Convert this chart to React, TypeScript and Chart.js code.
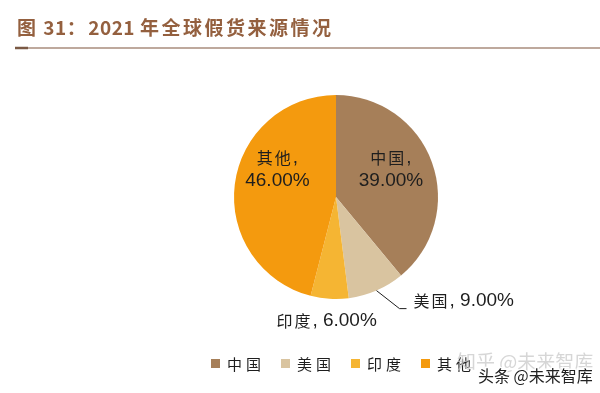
import React, { useEffect, useRef } from "react";
import { Chart, registerables } from "chart.js";

Chart.register(...registerables);

const titleText = "图 31：2021 年全球假货来源情况";
const categories = ["中国", "美国", "印度", "其他"];
const shares = [39, 9, 6, 46];
const sliceColors = ["#A67F59", "#D9C4A0", "#F5B533", "#F49A0E"];
const watermarkTexts = ["知乎 @未来智库", "头条 @未来智库"];

const CJK_FONT = '"Noto Sans CJK SC", sans-serif';
const NUM_FONT = '"Liberation Sans", Arial, sans-serif';

type Run = { text: string; cjk: boolean };
function splitRuns(s: string): Run[] {
  const runs: Run[] = [];
  for (const ch of s) {
    const cjk = /[\u3000-\u9fff\uff00-\uffef]/.test(ch);
    const last = runs[runs.length - 1];
    if (last && last.cjk === cjk) last.text += ch;
    else runs.push({ text: ch, cjk });
  }
  return runs;
}

function setRunFont(ctx: CanvasRenderingContext2D, cjk: boolean, cjkSize: number, numSize: number, cjkSpacing: number) {
  if (cjk) {
    ctx.font = `${cjkSize}px ${CJK_FONT}`;
    (ctx as any).letterSpacing = `${cjkSpacing}px`;
  } else {
    ctx.font = `${numSize}px ${NUM_FONT}`;
    (ctx as any).letterSpacing = "0px";
  }
}

function measureMixed(ctx: CanvasRenderingContext2D, s: string, cjkSize: number, numSize: number, sp: number) {
  let w = 0;
  for (const r of splitRuns(s)) {
    setRunFont(ctx, r.cjk, cjkSize, numSize, sp);
    w += ctx.measureText(r.text).width;
  }
  return w;
}

function drawMixed(ctx: CanvasRenderingContext2D, s: string, x: number, y: number, align: "left" | "center", cjkSize: number, numSize: number, sp: number) {
  const total = measureMixed(ctx, s, cjkSize, numSize, sp);
  let cx = align === "center" ? x - total / 2 : x;
  ctx.textAlign = "left";
  ctx.textBaseline = "middle";
  for (const r of splitRuns(s)) {
    setRunFont(ctx, r.cjk, cjkSize, numSize, sp);
    ctx.fillText(r.text, cx, y);
    cx += ctx.measureText(r.text).width;
  }
  (ctx as any).letterSpacing = "0px";
}

const fmt = (v: number) => `${v.toFixed(2)}%`;

// label layout (relative to pie centre, in units of radius for inside labels)
const insideLabels: Record<number, { rx: number; ry: number }> = {
  0: { rx: 0.539, ry: -0.27 },
  3: { rx: -0.574, ry: -0.27 },
};

const decorPlugin = {
  id: "decor",
  afterDraw(chart: any) {
    const ctx: CanvasRenderingContext2D = chart.ctx;
    ctx.save();

    // title: CJK runs spaced, digits plain
    ctx.fillStyle = "#94603F";
    ctx.textAlign = "left";
    ctx.textBaseline = "middle";
    let tx = 17;
    for (const r of splitRuns(titleText)) {
      ctx.font = `bold 19px ${CJK_FONT}`;
      (ctx as any).letterSpacing = r.cjk ? "2.5px" : "0.5px";
      ctx.fillText(r.text, tx, 28);
      tx += ctx.measureText(r.text).width;
    }
    (ctx as any).letterSpacing = "0px";
    ctx.strokeStyle = "#A88D7C";
    ctx.lineWidth = 1.5;
    ctx.beginPath();
    ctx.moveTo(15, 48);
    ctx.lineTo(600, 48);
    ctx.stroke();
    ctx.strokeStyle = "#7A5944";
    ctx.lineWidth = 2.5;
    ctx.beginPath();
    ctx.moveTo(15, 48);
    ctx.lineTo(28, 48);
    ctx.stroke();

    // data labels
    const meta = chart.getDatasetMeta(0);
    const data = chart.data.datasets[0].data as number[];
    const labels = chart.data.labels as string[];
    ctx.fillStyle = "#1E1E1E";
    meta.data.forEach((arc: any, i: number) => {
      const p = arc.getProps(["x", "y", "startAngle", "endAngle", "outerRadius"], true);
      const R = p.outerRadius;
      const mid = (p.startAngle + p.endAngle) / 2;
      const ex = p.x + Math.cos(mid) * R;
      const ey = p.y + Math.sin(mid) * R;
      if (insideLabels[i]) {
        const cx = p.x + insideLabels[i].rx * R;
        const cy = p.y + insideLabels[i].ry * R;
        drawMixed(ctx, `${labels[i]},`, cx, cy - 11.5, "center", 16, 19, 2);
        drawMixed(ctx, fmt(data[i]), cx, cy + 11.5, "center", 16, 19, 2);
      } else if (i === 1) {
        ctx.strokeStyle = "#1E1E1E";
        ctx.lineWidth = 1;
        ctx.beginPath();
        ctx.moveTo(ex, ey);
        ctx.lineTo(ex + 23, ey + 18);
        ctx.lineTo(ex + 30, ey + 18);
        ctx.stroke();
        drawMixed(ctx, `${labels[i]}, ${fmt(data[i])}`, ex + 37, ey + 10, "left", 16, 19, 2);
      } else {
        drawMixed(ctx, `${labels[i]}, ${fmt(data[i])}`, ex - 3, ey + 22, "center", 16, 19, 2);
      }
    });

    // legend
    const boxSize = 9;
    const legendY = 363.5;
    const gapBoxText = 7;
    const itemGap = 20;
    const sp = 4;
    ctx.font = `15px ${CJK_FONT}`;
    (ctx as any).letterSpacing = `${sp}px`;
    const widths = labels.map((l) => ctx.measureText(l).width - sp);
    const total = widths.reduce((a, w) => a + boxSize + gapBoxText + w, 0) + itemGap * (labels.length - 1);
    let lx = (chart.chartArea.left + chart.chartArea.right) / 2 + 5 - total / 2;
    labels.forEach((l, i) => {
      ctx.fillStyle = sliceColors[i];
      ctx.fillRect(lx, legendY - boxSize / 2, boxSize, boxSize);
      ctx.fillStyle = "#1E1E1E";
      ctx.textAlign = "left";
      ctx.textBaseline = "middle";
      ctx.fillText(l, lx + boxSize + gapBoxText, legendY + 0.5);
      lx += boxSize + gapBoxText + widths[i] + itemGap;
    });
    (ctx as any).letterSpacing = "0px";

    // watermarks
    ctx.font = `19px ${CJK_FONT}`;
    ctx.fillStyle = "rgba(200,200,200,0.75)";
    ctx.fillText(watermarkTexts[0], 457, 362);
    ctx.font = `16px ${CJK_FONT}`;
    ctx.lineWidth = 3;
    ctx.strokeStyle = "#ffffff";
    ctx.strokeText(watermarkTexts[1], 478, 376);
    ctx.fillStyle = "#222";
    ctx.fillText(watermarkTexts[1], 478, 376);

    ctx.restore();
  },
};

export default function App() {
  const ref = useRef<HTMLCanvasElement | null>(null);
  useEffect(() => {
    if (!ref.current) return;
    const chart = new Chart(ref.current, {
      type: "pie",
      data: {
        labels: categories,
        datasets: [
          {
            data: shares,
            backgroundColor: sliceColors,
            borderWidth: 0,
          },
        ],
      },
      options: {
        responsive: false,
        animation: false,
        layout: { padding: { left: 234, right: 162, top: 95, bottom: 94 } },
        plugins: {
          legend: { display: false },
          tooltip: { enabled: false },
          title: { display: false },
        },
      },
      plugins: [decorPlugin],
    });
    return () => chart.destroy();
  }, []);
  return (
    <div style={{ position: "absolute", left: 0, top: 0, width: 600, height: 393, background: "#fff" }}>
      <canvas ref={ref} width={600} height={393} style={{ display: "block" }} />
    </div>
  );
}
